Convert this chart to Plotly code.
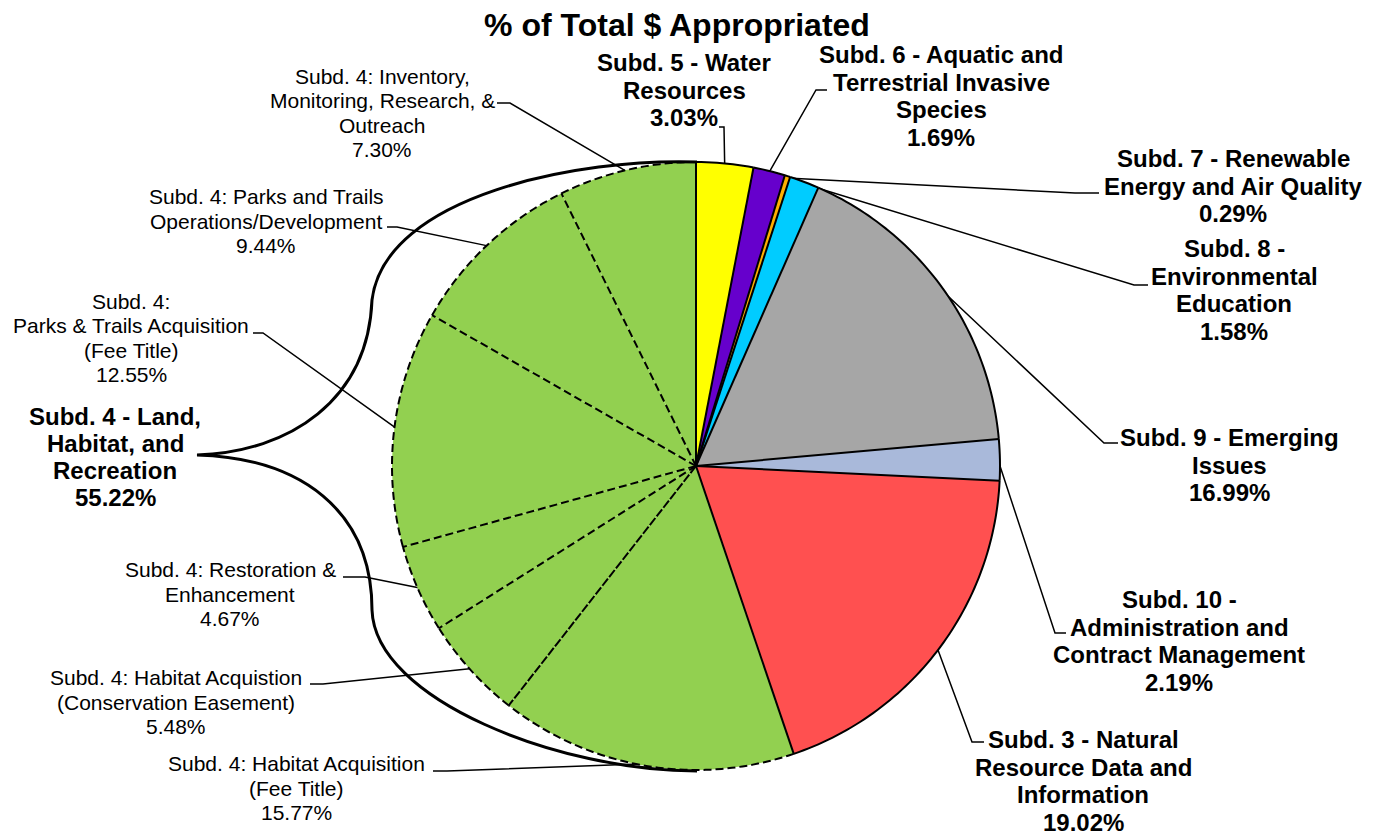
import numpy as np
import plotly.graph_objects as go

# ---- data -------------------------------------------------------------
slice_names = [
    "Subd. 5 - Water Resources",
    "Subd. 6 - Aquatic and Terrestrial Invasive Species",
    "Subd. 7 - Renewable Energy and Air Quality",
    "Subd. 8 - Environmental Education",
    "Subd. 9 - Emerging Issues",
    "Subd. 10 - Administration and Contract Management",
    "Subd. 3 - Natural Resource Data and Information",
    "Subd. 4: Habitat Acquisition (Fee Title)",
    "Subd. 4: Habitat Acquistion (Conservation Easement)",
    "Subd. 4: Restoration & Enhancement",
    "Subd. 4: Parks & Trails Acquisition (Fee Title)",
    "Subd. 4: Parks and Trails Operations/Development",
    "Subd. 4: Inventory, Monitoring, Research, & Outreach",
]
pct_values = [3.03, 1.69, 0.29, 1.58, 16.99, 2.19, 19.02,
              15.77, 5.48, 4.67, 12.55, 9.44, 7.30]
label_lines = [
    ["Subd. 5 - Water", "Resources"],
    ["Subd. 6 - Aquatic and", "Terrestrial Invasive", "Species"],
    ["Subd. 7 - Renewable", "Energy and Air Quality"],
    ["Subd. 8 -", "Environmental", "Education"],
    ["Subd. 9 - Emerging", "Issues"],
    ["Subd. 10 -", "Administration and", "Contract Management"],
    ["Subd. 3 - Natural", "Resource Data and", "Information"],
    ["Subd. 4: Habitat Acquisition", "(Fee Title)"],
    ["Subd. 4: Habitat Acquistion", "(Conservation Easement)"],
    ["Subd. 4: Restoration &", "Enhancement"],
    ["Subd. 4:", "Parks & Trails Acquisition", "(Fee Title)"],
    ["Subd. 4: Parks and Trails", "Operations/Development"],
    ["Subd. 4: Inventory,", "Monitoring, Research, &", "Outreach"],
]
is_subd4 = [False] * 7 + [True] * 6
group_lines = ["Subd. 4 - Land,", "Habitat, and", "Recreation"]
group_pct = 55.22

# ---- styles / layout --------------------------------------------------
slice_colors = ["#FFFF00", "#6600CC", "#FFB000", "#00CCFF", "#A6A6A6", "#A9B9DA",
                "#FF5050"] + ["#92D050"] * 6
W, H = 1376, 831
OFF = 8                            # page body margin of the html page
CX, CY, R = 696, 466, 304          # pie centre / radius in screen pixels
FONT = "Arial, Liberation Sans, sans-serif"

# label block centres and leader-line start / elbow (screen pixels)
label_xy = [(684, 90), (941, 96), (1233, 186), (1234, 290), (1229, 465),
            (1179, 641), (1083, 781), (296, 788), (176, 702), (230, 594),
            (131, 338), (266, 221), (382, 113)]
leader_start = [(719, 127), (827, 90), (1099, 193), (1148, 285), (1118, 443),
                (1066, 633), (984, 742), (433, 771), (310, 684), (343, 577),
                (253, 333), (387, 227), (497, 103)]
leader_elbow = [(724, 127), (816, 90), (1075, 193), (1134, 285), (1104, 443),
                (1055, 633), (972, 742), (447, 771), (323, 684), (365, 577),
                (263, 333), (397, 227), (510, 103)]
group_xy = (115, 457)

frac = np.array(pct_values) / sum(pct_values)
cum = np.concatenate([[0], np.cumsum(frac)])


def pie_xy(f, r=R):
    a = 2 * np.pi * f
    return CX + r * np.sin(a), CY - r * np.cos(a)


fig = go.Figure()

# leader lines (drawn under the pie, they stop at its rim)
lx, ly = [], []
for i in range(len(pct_values)):
    ex, ey = pie_xy((cum[i] + cum[i + 1]) / 2, R - 2)
    lx += [leader_start[i][0], leader_elbow[i][0], ex, None]
    ly += [leader_start[i][1], leader_elbow[i][1], ey, None]
fig.add_trace(go.Scatter(x=lx, y=ly, mode="lines", line=dict(color="black", width=1.5),
                         hoverinfo="skip", showlegend=False))

fcx, fcy = CX - OFF, CY - OFF
fig.add_trace(go.Pie(
    labels=slice_names, values=pct_values, sort=False, direction="clockwise",
    rotation=0, textinfo="none", hoverinfo="label+percent",
    marker=dict(colors=slice_colors, line=dict(width=0)),
    domain=dict(x=[(fcx - R) / W, (fcx + R) / W], y=[1 - (fcy + R) / H, 1 - (fcy - R) / H]),
    showlegend=False,
))

shapes = []
# outer rims
for i in range(len(pct_values)):
    ts = np.linspace(cum[i], cum[i + 1], max(3, int(frac[i] * 360) + 2))
    pts = [pie_xy(t) for t in ts]
    path = "M " + " L ".join(f"{x:.2f},{y:.2f}" for x, y in pts)
    shapes.append(dict(type="path", path=path, xref="x", yref="y", layer="above",
                       line=dict(color="black", width=2,
                                 dash="8px,4px" if is_subd4[i] else "solid")))
# radial boundaries
n = len(pct_values)
for k in range(n):
    prev_i = (k - 1) % n
    dashed = is_subd4[k] and is_subd4[prev_i]
    if dashed and k == 8:
        style = dict(width=2, dash="9px,2px")
    elif dashed:
        style = dict(width=2, dash="8px,4px")
    else:
        style = dict(width=2, dash="solid")
    bx, by = pie_xy(cum[k])
    shapes.append(dict(type="line", x0=CX, y0=CY, x1=bx, y1=by, xref="x", yref="y",
                       layer="above", line=dict(color="black", **style)))
# bracket around the Subd. 4 group
shapes.append(dict(
    type="path", xref="x", yref="y", layer="above",
    path=("M 697,162 C 580,158 385,195 372,300 C 368,400 290,452 197,455 "
          "C 300,458 372,510 372,610 C 375,700 560,771 697,771"),
    line=dict(color="black", width=3)))

annotations = []


def add_block(lines, cx, cy, bold, size, spacing):
    m = len(lines)
    for j, t in enumerate(lines):
        annotations.append(dict(
            x=cx, y=cy + (j - (m - 1) / 2) * spacing, xref="x", yref="y",
            text=f"<b>{t}</b>" if bold else t, showarrow=False,
            xanchor="center", yanchor="middle",
            font=dict(family=FONT, size=size, color="black")))


for i in range(n):
    lines = label_lines[i] + [f"{pct_values[i]:.2f}%"]
    if is_subd4[i]:
        add_block(lines, *label_xy[i], False, 21, 24.6)
    else:
        add_block(lines, *label_xy[i], True, 24, 27.6)
add_block(group_lines + [f"{group_pct:.2f}%"], *group_xy, True, 24, 26.7)

fig.update_layout(
    width=W, height=H, autosize=False,
    margin=dict(l=0, r=0, t=0, b=0),
    paper_bgcolor="white", plot_bgcolor="white",
    title=dict(text="<b>% of Total $ Appropriated</b>", x=(677 - OFF) / W, xanchor="center",
               y=1 - (25 - OFF) / H, yanchor="middle",
               font=dict(family=FONT, size=32, color="black")),
    xaxis=dict(range=[OFF, W + OFF], visible=False, fixedrange=True, domain=[0, 1]),
    yaxis=dict(range=[H + OFF, OFF], visible=False, fixedrange=True, domain=[0, 1]),
    shapes=shapes, annotations=annotations,
)

fig.write_html("out.html")
